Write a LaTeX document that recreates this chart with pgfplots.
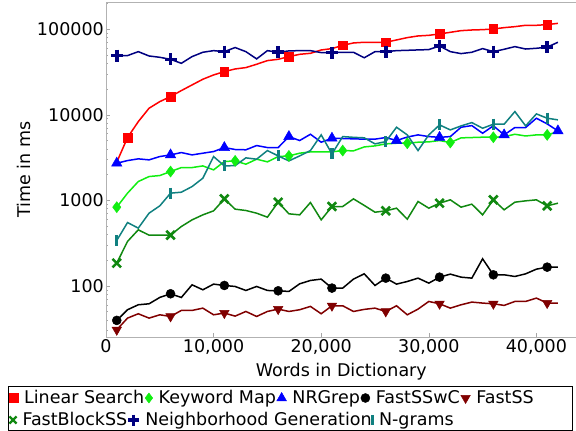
\documentclass[border=0pt]{standalone}
\usepackage{fontspec}
\setmainfont{DejaVu Sans}
\usepackage{pgfplots}
\pgfplotsset{compat=1.18}
\definecolor{cLS}{HTML}{FF0000}
\definecolor{cKM}{HTML}{11EE11}
\definecolor{cNR}{HTML}{0000FF}
\definecolor{cFC}{HTML}{000000}
\definecolor{cFS}{HTML}{800000}
\definecolor{cFB}{HTML}{108810}
\definecolor{cNG}{HTML}{000080}
\definecolor{cNW}{HTML}{108080}
\pgfplotsset{
  mkleg/.style={legend image code/.code={\draw[##1] plot coordinates {(0pt,0pt)};}},
  legrow/.style={legend style={draw=none, fill=none, inner sep=0pt, outer sep=0pt,
     /tikz/every odd column/.style={column sep=6pt},
     /tikz/every even column/.style={column sep=1pt},
     nodes={inner sep=0pt}}},
  stdmarks/.style={mark indices={1,6,11,16,21,26,31,36,41}},
}
\begin{document}
\fontsize{17.5}{21}\selectfont
\begin{tikzpicture}
\path[use as bounding box] (-106pt,-94pt) rectangle (470pt,337pt);
\begin{axis}[
  at={(0pt,0pt)}, anchor=south west,
  scale only axis, width=470.6pt, height=335pt,
  ymode=log, xmin=0, xmax=43736, ymin=25.2, ymax=207800,
  xtick={0,10000,20000,30000,40000},
  xticklabels={0,{10,000},{20,000},{30,000},{40,000}},
  scaled x ticks=false,
  ytick={100,1000,10000,100000},
  yticklabels={100,1000,10000,100000},
  minor ytick={30,40,50,60,70,80,90,200,300,400,500,600,700,800,900,2000,3000,4000,5000,6000,7000,8000,9000,20000,30000,40000,50000,60000,70000,80000,90000,200000},
  tick align=inside, tick pos=left,
  major tick length=4pt, minor tick length=2pt,
  every tick/.style={gray!70},
  axis line style={gray!60, line width=0.8pt},
  yticklabel style={inner sep=2pt},
  xticklabel style={inner sep=2pt},
  every axis x label/.style={at={(axis description cs:0.5,0)}, yshift=-34.5pt, anchor=center},
  every axis y label/.style={at={(axis description cs:0,0.5)}, xshift=-82pt, rotate=90, anchor=center},
  xlabel={Words in Dictionary},
  ylabel={Time in ms},
  legrow,
  legend style={at={(-0.2051,-0.1821)}, anchor=west},
  legend columns=5,
  every axis plot/.append style={line width=1.5pt},
]
\addplot[cLS, mark=square*, mark size=4.3pt, mark options={solid,line width=0.5pt}, mark indices={2,6,11,17,22,26,31,36,41}, forget plot] coordinates {
(1000,2786)(2000,5400)(3000,8300)(4000,11900)(5000,14230)(6000,16290)(7000,19140)(8000,22300)(9000,25970)(10000,29170)
(11000,31900)(12000,34270)(13000,35550)(14000,38900)(15000,42900)(16000,44440)(17000,47760)(18000,50840)(19000,52200)(20000,57100)
(21000,59250)(22000,64800)(23000,69000)(24000,70300)(25000,70300)(26000,70300)(27000,74800)(28000,79700)(29000,83300)(30000,84700)
(31000,87900)(32000,91900)(33000,96100)(34000,97800)(35000,98700)(36000,100500)(37000,104200)(38000,107000)(39000,111000)(40000,111000)
(41000,113000)(42000,117000)};
\addplot[cKM, mark=diamond*, mark size=5.5pt, mark options={solid,line width=0.5pt}, mark indices={1,6,12,17,22,28,32,36,41}, forget plot] coordinates {
(1000,830)(2000,1210)(3000,1655)(4000,1893)(5000,1945)(6000,2166)(7000,2410)(8000,2410)(9000,2520)(10000,2265)
(11000,2835)(12000,2885)(13000,2640)(14000,3020)(15000,2810)(16000,3240)(17000,3300)(18000,3550)(19000,3675)(20000,3675)
(21000,3675)(22000,3810)(23000,3780)(24000,4200)(25000,4320)(26000,4560)(27000,4640)(28000,4640)(29000,4770)(30000,4810)
(31000,4990)(32000,4730)(33000,5360)(34000,5410)(35000,5460)(36000,5450)(37000,5530)(38000,5910)(39000,5640)(40000,5810)
(41000,5810)(42000,6350)};
\addplot[cNR, mark=triangle*, mark size=6pt, mark options={solid,line width=0.5pt}, mark indices={1,6,11,17,21,27,31,37,42}, forget plot] coordinates {
(1000,2710)(2000,2910)(3000,3048)(4000,2965)(5000,3243)(6000,3390)(7000,3610)(8000,3390)(9000,3548)(10000,3710)
(11000,4130)(12000,3920)(13000,3890)(14000,4360)(15000,4130)(16000,4130)(17000,5550)(18000,4990)(19000,5910)(20000,4770)
(21000,5310)(22000,5270)(23000,5220)(24000,5180)(25000,5180)(26000,5410)(27000,4990)(28000,5480)(29000,5810)(30000,5550)
(31000,5440)(32000,5550)(33000,7140)(34000,7460)(35000,6070)(36000,7420)(37000,5810)(38000,7080)(39000,7080)(40000,9100)
(41000,7810)(42000,6470)};
\addplot[cFC, mark=*, mark size=4.5pt, mark options={solid,line width=0.5pt}, stdmarks, forget plot] coordinates {
(1000,39.4)(2000,52.5)(3000,60)(4000,61.6)(5000,73.1)(6000,80.7)(7000,73)(8000,102.7)(9000,89.8)(10000,104.6)
(11000,100.9)(12000,98.2)(13000,88.2)(14000,98.2)(15000,88.2)(16000,87.4)(17000,85.9)(18000,105.5)(19000,115.4)(20000,119.7)
(21000,94)(22000,94)(23000,119.7)(24000,138)(25000,100.9)(26000,122.9)(27000,104.6)(28000,112.3)(29000,122.9)(30000,107.4)
(31000,126.2)(32000,136.9)(33000,126.2)(34000,122.9)(35000,206.8)(36000,134.4)(37000,134.4)(38000,128.5)(39000,138)(40000,156.5)
(41000,165.2)(42000,165.2)};
\addplot[cFS, mark=triangle*, mark size=5.5pt, mark options={solid,line width=0.5pt,rotate=180}, stdmarks, forget plot] coordinates {
(1000,30.6)(2000,41.9)(3000,47.1)(4000,41.9)(5000,45.8)(6000,43.8)(7000,51.5)(8000,51.5)(9000,54.8)(10000,45.8)
(11000,48)(12000,44.2)(13000,50.1)(14000,43.8)(15000,50.1)(16000,53.4)(17000,50.1)(18000,52.5)(19000,57.4)(20000,47.1)
(21000,58.4)(22000,58.4)(23000,50.1)(24000,53)(25000,54.8)(26000,50.1)(27000,58.4)(28000,45.8)(29000,53.4)(30000,65.6)
(31000,61.6)(32000,54.8)(33000,60)(34000,64.5)(35000,62.8)(36000,61.6)(37000,59)(38000,65.6)(39000,65.6)(40000,71.8)
(41000,62.8)(42000,62.8)};
\addplot[cFB, mark=x, mark size=6pt, mark options={solid,line width=2.6pt}, stdmarks, forget plot] coordinates {
(1000,184)(2000,330)(3000,451)(4000,391)(5000,391)(6000,391)(7000,493)(8000,590)(9000,675)(10000,752)
(11000,1038)(12000,787)(13000,759)(14000,706)(15000,634)(16000,949)(17000,694)(18000,675)(19000,941)(20000,590)
(21000,845)(22000,845)(23000,1038)(24000,870)(25000,725)(26000,752)(27000,808)(28000,601)(29000,967)(30000,808)
(31000,924)(32000,1011)(33000,830)(34000,900)(35000,675)(36000,1011)(37000,773)(38000,949)(39000,984)(40000,1011)
(41000,860)(42000,924)};
\addplot[cNG, mark=+, mark size=6pt, mark options={solid,line width=3.6pt}, stdmarks, forget plot] coordinates {
(1000,49100)(2000,49100)(3000,54600)(4000,48600)(5000,46900)(6000,44400)(7000,39900)(8000,47800)(9000,53700)(10000,56100)
(11000,54600)(12000,61000)(13000,54600)(14000,44900)(15000,56100)(16000,53700)(17000,55700)(18000,56100)(19000,56100)(20000,53200)
(21000,53200)(22000,53700)(23000,53700)(24000,46300)(25000,54600)(26000,54600)(27000,56100)(28000,56600)(29000,57200)(30000,57700)
(31000,63600)(32000,54600)(33000,51800)(34000,53700)(35000,59300)(36000,54600)(37000,58200)(38000,62500)(39000,58600)(40000,59800)
(41000,61600)(42000,70300)};
\addplot[cNW, mark=|, mark size=5.5pt, mark options={solid,line width=3.2pt}, stdmarks, forget plot] coordinates {
(1000,339)(2000,549)(3000,472)(4000,706)(5000,860)(6000,1210)(7000,1242)(8000,1446)(9000,1810)(10000,3240)
(11000,2520)(12000,2540)(13000,3130)(14000,3020)(15000,3810)(16000,3300)(17000,2885)(18000,3300)(19000,3810)(20000,5810)
(21000,3485)(22000,5550)(23000,5440)(24000,5370)(25000,4560)(26000,4850)(27000,7140)(28000,5810)(29000,3810)(30000,5810)
(31000,7600)(32000,6640)(33000,7400)(34000,8090)(35000,6950)(36000,7740)(37000,7740)(38000,10880)(39000,7400)(40000,10220)
(41000,9100)(42000,8700)};
\addlegendimage{mkleg, cLS, mark=square*, mark size=4.3pt, mark options={line width=0.5pt}}
\addlegendimage{mkleg, cKM, mark=diamond*, mark size=5pt, mark options={line width=0.5pt}}
\addlegendimage{mkleg, cNR, mark=triangle*, mark size=5.5pt, mark options={line width=0.5pt}}
\addlegendimage{mkleg, cFC, mark=*, mark size=4.5pt, mark options={line width=0.5pt}}
\addlegendimage{mkleg, cFS, mark=triangle*, mark size=5.5pt, mark options={line width=0.5pt,rotate=180}}
\legend{Linear Search,Keyword Map,NRGrep,FastSSwC,FastSS}
\end{axis}
\begin{axis}[
  at={(0pt,0pt)}, anchor=south west,
  scale only axis, width=470.6pt, height=335pt,
  hide axis, xmin=0, xmax=1, ymin=0, ymax=1,
  legrow,
  legend style={at={(-0.2051,-0.2478)}, anchor=west},
  legend columns=3,
]
\addlegendimage{mkleg, cFB, mark=x, mark size=5pt, mark options={line width=2.4pt}}
\addlegendimage{mkleg, cNG, mark=+, mark size=5.5pt, mark options={line width=3.2pt}}
\addlegendimage{mkleg, cNW, mark=|, mark size=5pt, mark options={line width=3pt}}
\legend{FastBlockSS,Neighborhood Generation,N-grams}
\end{axis}
\draw[black, line width=0.9pt] (-98pt,-49pt) rectangle (466pt,-93pt);
\end{tikzpicture}
\end{document}
